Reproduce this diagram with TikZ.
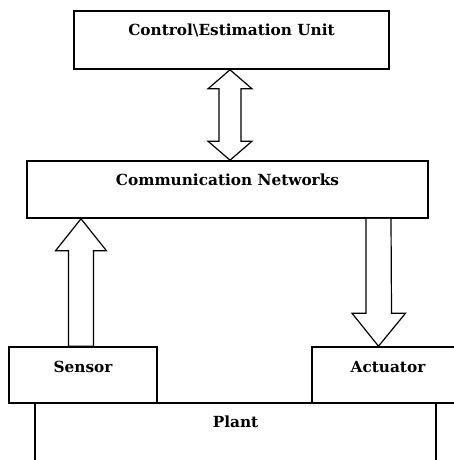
\documentclass[tikz,border=0pt]{standalone}
\usepackage{fontspec}
\setmainfont{DejaVu Serif}
\begin{document}
\begin{tikzpicture}[x=1pt,y=1pt,
  box/.style={draw, line width=1.6pt, rectangle, inner sep=0pt},
  lbl/.style={font=\bfseries\fontsize{15.3}{17}\selectfont, inner sep=0pt},
  barrow/.style={draw, line width=1.2pt, line join=miter, fill=white}]
\useasboundingbox (0,0) rectangle (454,460);
% boxes
\node[box, minimum width=315pt, minimum height=58pt] (ctrl) at (231.5,420) {};
\node[box, minimum width=401pt, minimum height=57pt] (comm) at (227.5,270.5) {};
\node[box, minimum width=148pt, minimum height=56pt] (sensor) at (83,85) {};
\node[box, minimum width=150pt, minimum height=56pt] (act) at (387,85) {};
\node[box, minimum width=401pt, minimum height=64pt] (plant) at (235.5,25) {};
% labels
\node[lbl] (ctrlt) at ([yshift=-20pt]ctrl.north) {Control\textbackslash Estimation Unit};
\node[lbl] (commt) at ([yshift=-20pt]comm.north) {Communication Networks};
\node[lbl] (sensort) at ([yshift=-20.5pt]sensor.north) {Sensor};
\node[lbl] (actt) at ([xshift=1pt,yshift=-20.5pt]act.north) {Actuator};
\node[lbl] (plantt) at ([yshift=-20pt]plant.north) {Plant};
% double arrow between control unit and network
\coordinate (dtop) at (230,0 |- ctrl.south);
\coordinate (dbot) at (230,0 |- comm.north);
\draw[barrow] (dtop) -- ++(22,-19) -- ++(-11,0) -- ([xshift=11pt,yshift=19pt]dbot)
  -- ++(11,0) -- (dbot) -- ++(-22,19) -- ++(11,0) -- ([xshift=-11pt,yshift=-19pt]dtop)
  -- ++(-11,0) -- cycle;
% sensor -> network
\coordinate (stip) at (81,0 |- comm.south);
\coordinate (sbase) at (81,0 |- sensor.north);
\draw[barrow] (stip) -- ++(25.5,-32) -- ++(-13,0) -- ([xshift=12.5pt]sbase)
  -- ([xshift=-12.5pt]sbase) -- ([xshift=-12.5pt,yshift=-32pt]stip) -- ++(-13,0) -- cycle;
% network -> actuator
\coordinate (atop) at (378.5,0 |- comm.south);
\coordinate (atip) at (378.5,0 |- act.north);
\draw[barrow] ([xshift=-12.5pt]atop) -- ([xshift=-12.5pt,yshift=33pt]atip) -- ++(-14,0)
  -- (atip) -- ++(27,33) -- ++(-14,0) -- ([xshift=12.5pt]atop);
\end{tikzpicture}
\end{document}
